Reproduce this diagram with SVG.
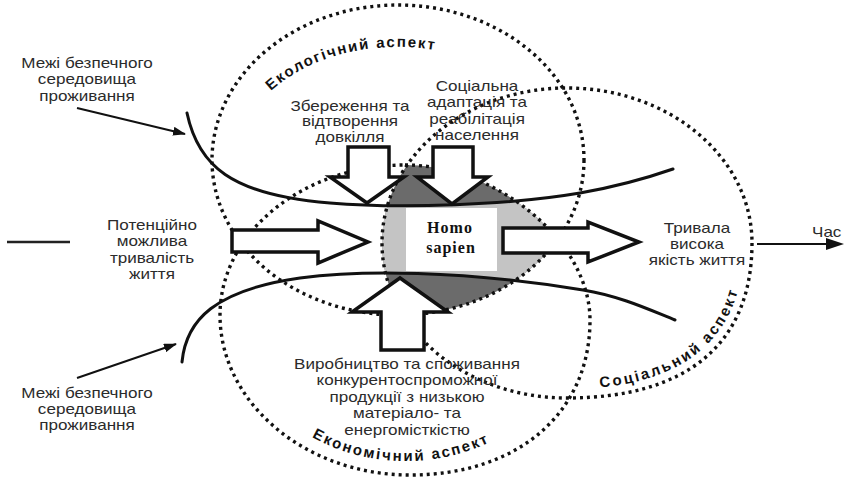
<svg xmlns="http://www.w3.org/2000/svg" width="847" height="479" viewBox="0 0 847 479">
<defs>
<style>
.dot{fill:none;stroke:#111;stroke-width:3.4;stroke-dasharray:3 4;}
.bound{fill:none;stroke:#111;stroke-width:3;stroke-linecap:round;}
.blk{fill:#fff;stroke:#111;stroke-width:3.5;}
.lbl{font-family:"Liberation Sans",Arial,sans-serif;font-size:14px;fill:#2b2b2b;text-anchor:middle;}
.asp{font-family:"Liberation Sans",Arial,sans-serif;font-size:15px;font-weight:bold;fill:#111;letter-spacing:2px;}
.ptr{stroke:#111;stroke-width:2;fill:none;}
.hs{font-family:"Liberation Serif","Times New Roman",serif;font-size:16px;font-weight:bold;fill:#111;text-anchor:middle;letter-spacing:1px;}
</style>
<clipPath id="cEco"><ellipse cx="398" cy="160" rx="186" ry="155"/></clipPath>
<clipPath id="cEcon"><path d="M405 165 C497.5 165 590 242.5 590 320 C590 413 518 475 410 475 C305.5 475 220 403 220 315 C220 232.5 303.3 165 405 165 Z"/></clipPath>
<clipPath id="cSoc"><path d="M752 243 C752 343.75 687 398 567 398 C464.8 398 382 328.6 382 243 C382 157.4 464.8 88 567 88 C669.2 88 752 157.4 752 243 Z"/></clipPath>
<marker id="ah" viewBox="0 0 13 9" refX="12" refY="4.5" markerWidth="13" markerHeight="9" markerUnits="userSpaceOnUse" orient="auto"><path d="M0 0 L13 4.5 L0 9 Z" fill="#111"/></marker>
<path id="pEco" d="M271 91 A160 113 0 0 1 480 63"/>
<path id="pEcon" d="M312 437 A165 136 0 0 0 512 429"/>
<path id="pSoc" d="M567 389 C684 389 744 338 744 243"/>
</defs>

<g id="shading">
<g clip-path="url(#cEco)"><g clip-path="url(#cEcon)"><g clip-path="url(#cSoc)">
<rect x="300" y="100" width="320" height="260" fill="#6b6b6b"/>
<path d="M300 203 L330 203 C400 209 510 205 580 193 C620 186 650 177 673 169 L675 320 C650 310 620 296 583 290 C460 270 360 270 300 278 Z" fill="#c4c4c4"/>
</g></g></g>
</g>

<g id="aspects">
<ellipse id="eco-circle" class="dot" cx="398" cy="160" rx="186" ry="155"/>
<path id="econ-circle" class="dot" d="M405 165 C497.5 165 590 242.5 590 320 C590 413 518 475 410 475 C305.5 475 220 403 220 315 C220 232.5 303.3 165 405 165 Z"/>
<path id="soc-circle" class="dot" d="M752 243 C752 343.75 687 398 567 398 C464.8 398 382 328.6 382 243 C382 157.4 464.8 88 567 88 C669.2 88 752 157.4 752 243 Z"/>
<text class="asp" style="letter-spacing:1.7px"><textPath href="#pEco">Екологічний аспект</textPath></text>
<text class="asp"><textPath href="#pEcon">Економічний аспект</textPath></text>
<text class="asp" style="letter-spacing:2.4px"><textPath href="#pSoc" startOffset="33">Соціальний аспект</textPath></text>
</g>

<g id="homo">
<rect x="406" y="208" width="91" height="63" fill="#fff"/>
<text class="hs"><tspan x="450" y="233">Homo</tspan><tspan x="451" y="253">sapien</tspan></text>
</g>

<g id="boundaries">
<path class="bound" d="M187 113 C198 165 230 195 330 203 C400 209 510 205 580 193 C620 186 650 177 673 169"/>
<path class="bound" d="M182 362 C186 320 215 290 300 278 C360 270 460 270 583 290 C620 296 650 310 675 320"/>
</g>

<g id="flows">
<polygon id="arrow-eco" class="blk" points="348,147 389,147 389,177 404,177 367,203 330,177 348,177"/>
<polygon id="arrow-soc" class="blk" points="433,147 473,147 473,177 488,177 452,204 417,177 433,177"/>
<polygon id="arrow-econ" class="blk" points="381,350 424,350 424,312 448,312 400,278 352,312 381,312"/>
<polygon id="arrow-in" class="blk" points="232,230 318,230 318,221 368,242 318,263 318,252 232,252"/>
<polygon id="arrow-out" class="blk" points="503,228 588,228 588,222 639,242 588,262 588,253 503,253"/>
</g>

<g id="label-boundary-top">
<text class="lbl" transform="translate(87 68) scale(1.22 1)"><tspan x="0" y="0">Межі безпечного</tspan><tspan x="0" y="16.5">середовища</tspan><tspan x="0" y="33">проживання</tspan></text>
</g>
<g id="label-boundary-bottom">
<text class="lbl" transform="translate(87 398) scale(1.22 1)"><tspan x="0" y="0">Межі безпечного</tspan><tspan x="0" y="16">середовища</tspan><tspan x="0" y="32">проживання</tspan></text>
</g>
<g id="label-potential">
<text class="lbl" transform="translate(152 230) scale(1.22 1)"><tspan x="0" y="0">Потенційно</tspan><tspan x="0" y="16.5">можлива</tspan><tspan x="0" y="33">тривалість</tspan><tspan x="0" y="49">життя</tspan></text>
</g>
<g id="label-env">
<text class="lbl" transform="translate(350 111) scale(1.22 1)"><tspan x="0" y="0">Збереження та</tspan><tspan x="0" y="15.5">відтворення</tspan><tspan x="0" y="31">довкілля</tspan></text>
</g>
<g id="label-social">
<text class="lbl" transform="translate(477 91) scale(1.22 1)"><tspan x="0" y="0">Соціальна</tspan><tspan x="0" y="16.5">адаптація та</tspan><tspan x="0" y="33">реабілітація</tspan><tspan x="0" y="49">населення</tspan></text>
</g>
<g id="label-quality">
<text class="lbl" transform="translate(697 233) scale(1.22 1)"><tspan x="0" y="0">Тривала</tspan><tspan x="0" y="16">висока</tspan><tspan x="0" y="32">якість життя</tspan></text>
</g>
<g id="label-production">
<text class="lbl" transform="translate(407 369) scale(1.22 1)"><tspan x="0" y="0">Виробництво та споживання</tspan><tspan x="0" y="16.5">конкурентоспроможної</tspan><tspan x="0" y="33">продукції з низькою</tspan><tspan x="0" y="49.5">матеріало- та</tspan><tspan x="0" y="66">енергомісткістю</tspan></text>
</g>
<g id="label-time">
<text class="lbl" style="text-anchor:start" transform="translate(812 237) scale(1.22 1)">Час</text>
</g>

<g id="connectors">
<line class="ptr" x1="77" y1="108" x2="185" y2="134" marker-end="url(#ah)"/>
<line class="ptr" x1="77" y1="378" x2="176" y2="344" marker-end="url(#ah)"/>
<line x1="7" y1="242" x2="70" y2="242" stroke="#222" stroke-width="2.5"/>
<line x1="757" y1="244" x2="830" y2="244" stroke="#111" stroke-width="2"/>
<polygon points="826,238 844,244 826,250" fill="#111"/>
</g>
</svg>
